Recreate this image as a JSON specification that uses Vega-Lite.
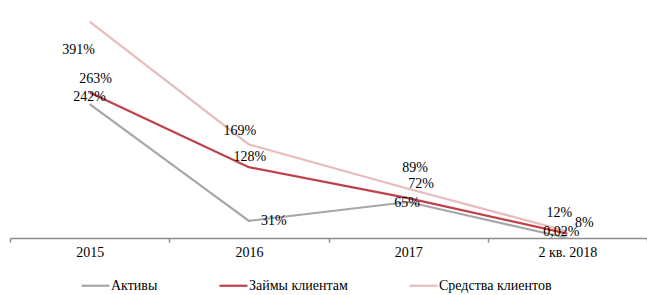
{
  "$schema": "https://vega.github.io/schema/vega-lite/v6.json",
  "width": 637,
  "height": 238,
  "autosize": "none",
  "padding": {"left": 10, "top": 0, "right": 0, "bottom": 57},
  "background": "white",
  "config": {
    "view": {"stroke": null},
    "text": {"font": "Liberation Serif", "fontSize": 14, "color": "#000000", "baseline": "middle", "align": "center"}
  },
  "data": {
    "values": [
      {"period": "2015", "series": "Активы", "value": 242, "label": "242%"},
      {"period": "2016", "series": "Активы", "value": 31, "label": "31%"},
      {"period": "2017", "series": "Активы", "value": 65, "label": "65%"},
      {"period": "2 кв. 2018", "series": "Активы", "value": 0.02, "label": "0,02%"},
      {"period": "2015", "series": "Займы клиентам", "value": 263, "label": "263%"},
      {"period": "2016", "series": "Займы клиентам", "value": 128, "label": "128%"},
      {"period": "2017", "series": "Займы клиентам", "value": 72, "label": "72%"},
      {"period": "2 кв. 2018", "series": "Займы клиентам", "value": 8, "label": "8%"},
      {"period": "2015", "series": "Средства клиентов", "value": 391, "label": "391%"},
      {"period": "2016", "series": "Средства клиентов", "value": 169, "label": "169%"},
      {"period": "2017", "series": "Средства клиентов", "value": 89, "label": "89%"},
      {"period": "2 кв. 2018", "series": "Средства клиентов", "value": 12, "label": "12%"}
    ]
  },
  "encoding": {
    "x": {
      "field": "period",
      "type": "ordinal",
      "sort": ["2015", "2016", "2017", "2 кв. 2018"],
      "scale": {"type": "band", "paddingInner": 0, "paddingOuter": 0},
      "axis": {
        "title": null,
        "labelAngle": 0,
        "domainColor": "#8c8c8c",
        "domainWidth": 1.5,
        "tickColor": "#8c8c8c",
        "tickWidth": 1.5,
        "tickSize": 4,
        "tickBand": "extent",
        "labelFont": "Liberation Serif",
        "labelFontSize": 14,
        "labelFontWeight": "normal",
        "labelColor": "#000000",
        "labelPadding": 3,
        "grid": false
      }
    },
    "y": {
      "field": "value",
      "type": "quantitative",
      "scale": {"domain": [0, 430], "nice": false},
      "axis": null
    }
  },
  "layer": [
    {
      "mark": {"type": "line", "strokeWidth": 2.2, "interpolate": "linear"},
      "encoding": {
        "color": {
          "field": "series",
          "type": "nominal",
          "scale": {
            "domain": ["Активы", "Займы клиентам", "Средства клиентов"],
            "range": ["#a6a6a6", "#c0404a", "#e8bcbc"]
          },
          "legend": {
            "title": null,
            "orient": "none",
            "direction": "horizontal",
            "legendX": 70,
            "legendY": 270,
            "symbolType": "stroke",
            "symbolSize": 784,
            "symbolStrokeWidth": 2.2,
            "labelFont": "Liberation Serif",
            "labelFontSize": 14,
            "labelColor": "#000000",
            "labelOffset": 0,
            "labelBaseline": "middle",
            "columnPadding": 57,
            "labelLimit": 300
          }
        }
      }
    },
    {"transform": [{"filter": "datum.series == 'Средства клиентов' && datum.period == '2015'"}], "mark": {"type": "text", "dx": -11, "dy": 28}, "encoding": {"text": {"field": "label"}}},
    {"transform": [{"filter": "datum.series == 'Средства клиентов' && datum.period == '2016'"}], "mark": {"type": "text", "dx": -9, "dy": -13}, "encoding": {"text": {"field": "label"}}},
    {"transform": [{"filter": "datum.series == 'Средства клиентов' && datum.period == '2017'"}], "mark": {"type": "text", "dx": 7, "dy": -21}, "encoding": {"text": {"field": "label"}}},
    {"transform": [{"filter": "datum.series == 'Средства клиентов' && datum.period == '2 кв. 2018'"}], "mark": {"type": "text", "dx": -8, "dy": -18}, "encoding": {"text": {"field": "label"}}},
    {"transform": [{"filter": "datum.series == 'Займы клиентам' && datum.period == '2015'"}], "mark": {"type": "text", "dx": 6, "dy": -13}, "encoding": {"text": {"field": "label"}}},
    {"transform": [{"filter": "datum.series == 'Займы клиентам' && datum.period == '2016'"}], "mark": {"type": "text", "dx": 1, "dy": -10}, "encoding": {"text": {"field": "label"}}},
    {"transform": [{"filter": "datum.series == 'Займы клиентам' && datum.period == '2017'"}], "mark": {"type": "text", "dx": 13, "dy": -14}, "encoding": {"text": {"field": "label"}}},
    {"transform": [{"filter": "datum.series == 'Займы клиентам' && datum.period == '2 кв. 2018'"}], "mark": {"type": "text", "dx": 17, "dy": -11}, "encoding": {"text": {"field": "label"}}},
    {"transform": [{"filter": "datum.series == 'Активы' && datum.period == '2015'"}], "mark": {"type": "text", "dx": 0, "dy": -7}, "encoding": {"text": {"field": "label"}}},
    {"transform": [{"filter": "datum.series == 'Активы' && datum.period == '2016'"}], "mark": {"type": "text", "dx": 25, "dy": 0}, "encoding": {"text": {"field": "label"}}},
    {"transform": [{"filter": "datum.series == 'Активы' && datum.period == '2017'"}], "mark": {"type": "text", "dx": -1, "dy": 1}, "encoding": {"text": {"field": "label"}}},
    {"transform": [{"filter": "datum.series == 'Активы' && datum.period == '2 кв. 2018'"}], "mark": {"type": "text", "dx": -6, "dy": -6}, "encoding": {"text": {"field": "label"}}}
  ]
}
